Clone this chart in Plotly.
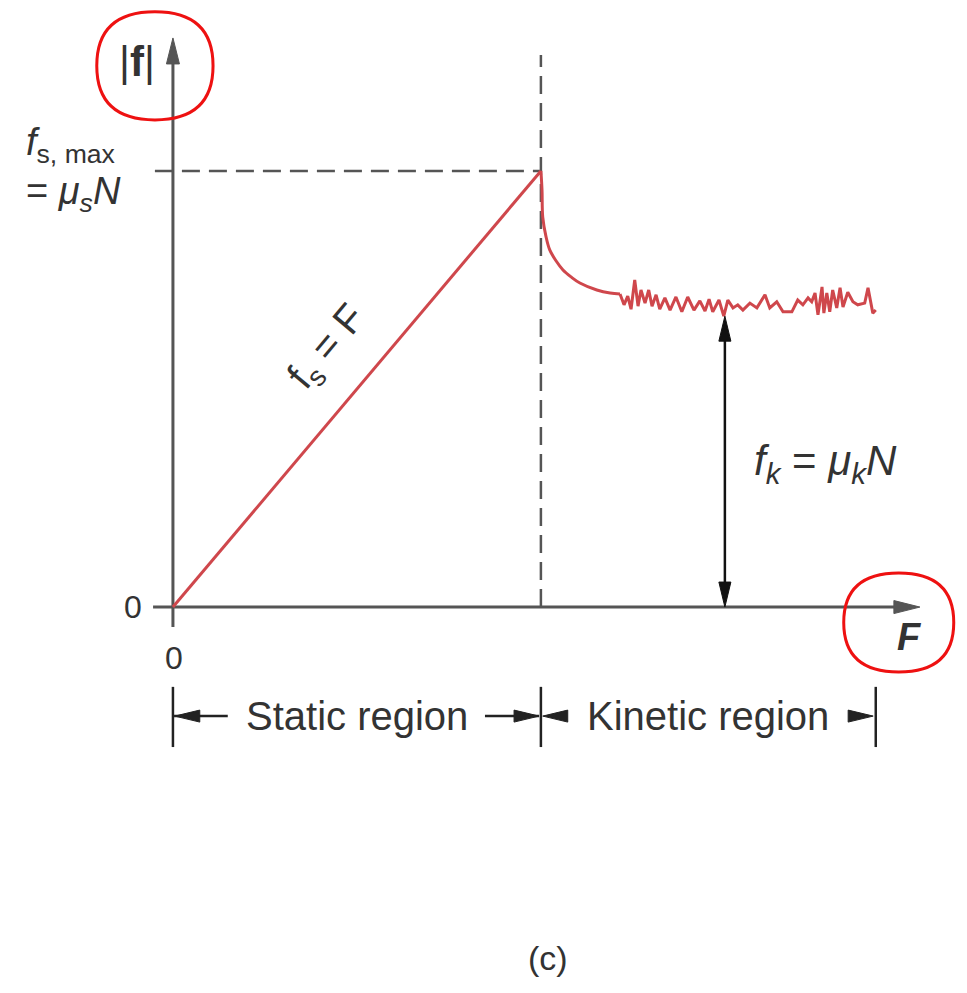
import plotly.graph_objects as go

# Units: applied force F and friction |f| are both scaled so that the
# breakaway point (F at slipping, f_s,max) equals 100.
F_SLIP = 100.0
FS_MAX = 100.0
F_END = 191.0          # end of the plotted kinetic region
F_AXIS_END = 203.0     # tip of the F axis arrow
FRIC_AXIS_END = 130.5  # tip of the |f| axis arrow
FK_LEVEL = 66.7        # kinetic friction level marked by the arrow
FK_ARROW_F = 150.0     # where the f_k arrow is drawn

# static region: f_s = F
static_F = [0.0, 100.0]
static_f = [0.0, 100.0]

# drop from the static maximum to kinetic friction
drop_F = [100.0, 100.3, 100.5, 101.4, 102.4, 104.1, 106.0, 108.2, 110.6, 115.2, 118.8, 121.5]
drop_f = [100.0, 95.6, 89.4, 84.9, 81.9, 79.4, 77.3, 75.7, 74.3, 72.7, 72.0, 71.8]

# fluctuating kinetic friction
kin_F = [121.5, 122.6, 123.6, 124.5, 125.5, 126.4, 127.2, 128.3, 129.3, 130.2,
         131.3, 132.3, 133.7, 135.1, 136.7, 138.3, 139.9, 141.6, 143.2, 144.6,
         145.7, 146.7, 148.4, 149.7, 150.8, 152.2, 153.5, 154.9, 156.8, 158.7,
         160.9, 162.2, 164.1, 165.8, 168.2, 169.8, 171.2, 172.6, 173.6, 174.5,
         175.3, 176.4, 176.9, 177.7, 178.5, 179.3, 180.4, 181.3, 182.1, 183.4,
         184.8, 186.1, 188.0, 188.9, 190.2, 191.0]
kin_f = [71.8, 69.3, 71.3, 68.3, 75.0, 69.0, 72.7, 69.7, 72.7, 69.0,
         71.6, 68.3, 70.9, 68.1, 71.1, 67.7, 71.1, 68.1, 70.2, 67.9,
         70.6, 67.7, 70.4, 66.7, 70.4, 68.6, 69.3, 68.1, 69.7, 68.6,
         71.6, 68.6, 70.0, 67.7, 67.7, 70.4, 69.3, 70.9, 70.0, 72.0,
         67.0, 73.4, 67.4, 72.0, 67.7, 72.7, 68.6, 73.2, 68.8, 72.2,
         70.0, 69.3, 69.7, 73.2, 67.4, 68.1]

# region bracket below the axis
BRACKET_TOP = -18.3
BRACKET_BOTTOM = -32.1
BRACKET_MID = -25.0
region_edges = [0.0, F_SLIP, F_END]
region_names = ["Static region", "Kinetic region"]

X_RANGE = [-47.0, 215.8]
Y_RANGE = [-88.5, 139.2]
W, H = 967, 993
PX_X = W / (X_RANGE[1] - X_RANGE[0])
PX_Y = H / (Y_RANGE[1] - Y_RANGE[0])

RED = "#cf474c"
GREY = "#555555"
INK = "#333333"
FONT = "Liberation Sans, Arial, sans-serif"

fig = go.Figure()


def line(xs, ys, color=GREY, width=3, dash=None, shape="linear"):
    fig.add_trace(go.Scatter(x=xs, y=ys, mode="lines", hoverinfo="skip",
                             line=dict(color=color, width=width, dash=dash, shape=shape)))


def head(tx, ty, direction, length=26, half=6.5, color=GREY):
    # narrow filled arrowhead, sized in pixels, tip at (tx, ty)
    dx, dy = {"up": (0, 1), "down": (0, -1), "left": (-1, 0), "right": (1, 0)}[direction]
    bx = tx - dx * length / PX_X
    by = ty - dy * length / PX_Y
    px_, py_ = -dy * half / PX_X, dx * half / PX_Y
    path = f"M{tx},{ty} L{bx + px_},{by + py_} L{bx - px_},{by - py_} Z"
    fig.add_shape(type="path", path=path, fillcolor=color,
                  line=dict(color=color, width=1), layer="above")


def loop(x0, x1, y0, y1):
    # hand-drawn style highlight loop
    xm, ym = (x0 + x1) / 2, (y0 + y1) / 2
    path = (f"M{xm},{y1} Q{x1},{y1} {x1},{ym} Q{x1},{y0} {xm},{y0} "
            f"Q{x0},{y0} {x0},{ym} Q{x0},{y1} {xm},{y1} Z")
    fig.add_shape(type="path", path=path, line=dict(color="#ee1111", width=3), layer="above")


# reference dashes at the breakaway point
line([-4.9, F_SLIP], [FS_MAX, FS_MAX], width=2.5, dash="18px,9px")
line([F_SLIP, F_SLIP], [0, 126.6], width=2.5, dash="18px,9px")

# axes
line([0, 0], [-4.6, FRIC_AXIS_END - 4], width=3)
head(0, FRIC_AXIS_END, "up")
line([-5.4, F_AXIS_END - 4], [0, 0], width=3)
head(F_AXIS_END, 0, "right")

# friction curve
line(static_F, static_f, color=RED, width=3)
line(drop_F, drop_f, color=RED, width=3, shape="spline")
line(kin_F, kin_f, color=RED, width=3)

# f_k double arrow
line([FK_ARROW_F, FK_ARROW_F], [3, FK_LEVEL - 3], color="#111111", width=2.5)
head(FK_ARROW_F, FK_LEVEL, "up", length=25, half=6, color="#111111")
head(FK_ARROW_F, 0, "down", length=25, half=6, color="#111111")

# region brackets
for e in region_edges:
    line([e, e], [BRACKET_BOTTOM, BRACKET_TOP], color="#222222", width=2.5)
line([0.3, 14.9], [BRACKET_MID, BRACKET_MID], color="#222222", width=2.5)
head(0.5, BRACKET_MID, "left", length=25, half=6, color="#222222")
line([84.8, 99.5], [BRACKET_MID, BRACKET_MID], color="#222222", width=2.5)
head(99.5, BRACKET_MID, "right", length=25, half=6, color="#222222")
head(100.5, BRACKET_MID, "left", length=25, half=6, color="#222222")
head(190.3, BRACKET_MID, "right", length=25, half=6, color="#222222")


def text(x, y, s, size, xanchor="center", yanchor="middle", angle=0, align="center"):
    fig.add_annotation(x=x, y=y, text=s, showarrow=False, xanchor=xanchor, yanchor=yanchor,
                       textangle=angle, align=align,
                       font=dict(family=FONT, size=size, color=INK))


text(-9.8, 125.0, "|<b>f</b>|", 42)
text(-40.5, 100.3, "<i>f</i><sub>s, max</sub><br>= <i>μ</i><sub><i>s</i></sub><i>N</i>", 38,
     xanchor="left", align="left")
text(-10.9, 0, "0", 32)
text(0.3, -11.7, "0", 32)
text(200.3, -6.9, "<b><i>F</i></b>", 38)
text(42.0, 59.5, "f<sub>s</sub> = F", 40, angle=-50)
text(177.4, 33.0, "<i>f</i><sub><i>k</i></sub> = <i>μ</i><sub><i>k</i></sub><i>N</i>", 42)
text((region_edges[0] + region_edges[1]) / 2, BRACKET_MID, region_names[0], 40)
text((region_edges[1] + region_edges[2]) / 2, BRACKET_MID, region_names[1], 40)
text(101.9, -80.5, "(c)", 34)

loop(-20.7, 10.9, 111.7, 136.5)
loop(182.3, 212.2, -14.9, 7.8)

fig.update_layout(
    width=W, height=H, showlegend=False,
    margin=dict(l=0, r=0, t=0, b=0),
    paper_bgcolor="white", plot_bgcolor="white",
    xaxis=dict(range=X_RANGE, visible=False, fixedrange=True),
    yaxis=dict(range=Y_RANGE, visible=False, fixedrange=True),
)

fig.write_html("out.html")
